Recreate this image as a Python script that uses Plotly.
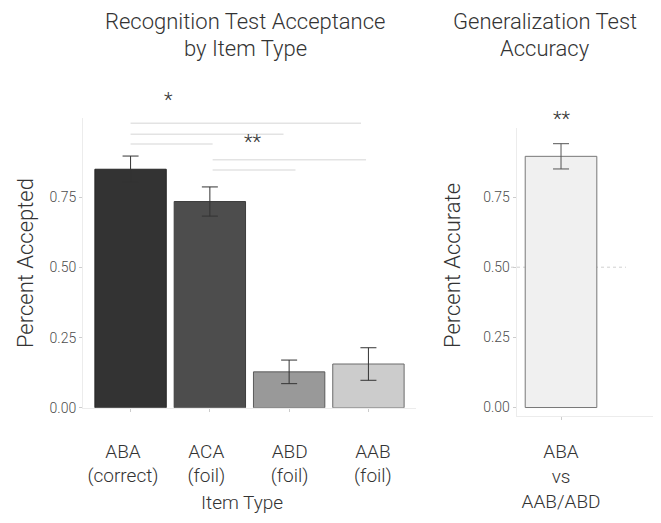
import plotly.graph_objects as go

# ---------------- data ----------------
categories = ["ABA", "ACA", "ABD", "AAB"]
tick_labels = ["ABA<br>(correct)", "ACA<br>(foil)", "ABD<br>(foil)", "AAB<br>(foil)"]
accept_means = [0.850, 0.735, 0.128, 0.156]
accept_err = [0.047, 0.052, 0.042, 0.058]
bar_colors = ["#333333", "#4d4d4d", "#999999", "#cccccc"]
bar_edges = ["#262626", "#3d3d3d", "#5a5a5a", "#6a6a6a"]

gen_label = ["ABA<br>vs<br>AAB/ABD"]
gen_mean = [0.895]
gen_err = [0.045]

# significance brackets (x in category units, y in proportion)
sig_x0 = [0.0, 0.0, 0.0, 1.035, 1.035]
sig_x1 = [2.906, 1.929, 1.035, 2.97, 2.08]
sig_y = [1.014, 0.975, 0.940, 0.884, 0.847]
sig_text = ["*", "**"]
sig_text_x = [0.48, 1.54]
sig_text_y = [1.084, 0.933]
gen_sig_y = 1.018
chance = 0.5

# page offset of the figure inside the browser window
OFFX, OFFY = 8, 0
W, H = 661 - OFFX, 523 - OFFY
FONT = "Roboto"
TXT = "#333333"


def PX(x):
    return (x - OFFX) / W


def PY(y):
    return 1 - (y - OFFY) / H


# axis layouts (pixel boxes)
L_XDOM = [PX(83), PX(416)]
L_YDOM = [PY(406), PY(112)]
L_XR = [-0.6, 3.6]
L_LABEL_XR = [-0.48, 3.517]   # tick-label row is spread slightly wider than the bars
L_YR = [0, 1.0316]
R_XDOM = [PX(516.7), PX(660)]
R_YDOM = [PY(414), PY(121.7)]
R_XR = [-0.557, 1.244]
R_YR = [-0.029, 0.9965]


def to_paper(v, dom, rng):
    return dom[0] + (v - rng[0]) / (rng[1] - rng[0]) * (dom[1] - dom[0])


fig = go.Figure()
x_idx = list(range(len(categories)))
fig.add_trace(go.Bar(
    x=x_idx, y=accept_means, width=0.9,
    marker=dict(color=bar_colors, line=dict(color=bar_edges, width=1)),
    error_y=dict(type="data", array=accept_err, visible=True, color="#333333",
                 thickness=1, width=8),
    xaxis="x", yaxis="y", showlegend=False, hoverinfo="skip"))
fig.add_trace(go.Bar(
    x=[0], y=gen_mean, width=0.9,
    marker=dict(color="#f0f0f0", line=dict(color="#777777", width=1)),
    error_y=dict(type="data", array=gen_err, visible=True, color="#555555",
                 thickness=1, width=8),
    xaxis="x2", yaxis="y2", showlegend=False, hoverinfo="skip"))
# invisible carrier for the category label axis
fig.add_trace(go.Scatter(x=x_idx, y=[None] * len(x_idx), xaxis="x3", yaxis="y",
                         showlegend=False, hoverinfo="skip"))

line_common = dict(showgrid=False, zeroline=False, showline=True, linecolor="#ececec",
                   linewidth=1, ticks="outside", ticklen=3, tickcolor="#cccccc")
yfont = dict(family=FONT, size=14, color="#4d4d4d", weight=300)
xfont = dict(family=FONT, size=19, color=TXT, weight=300)
yticks = [0, 0.25, 0.5, 0.75]
ytext = ["0.00", "0.25", "0.50", "0.75"]

fig.update_layout(
    width=W, height=H, margin=dict(l=0, r=0, t=0, b=0),
    paper_bgcolor="white", plot_bgcolor="white",
    font=dict(family=FONT, color=TXT, weight=300),
    xaxis=dict(domain=L_XDOM, range=L_XR, tickvals=x_idx, showticklabels=False,
               anchor="y", **line_common),
    xaxis3=dict(domain=L_XDOM, range=L_LABEL_XR, tickvals=x_idx, ticktext=tick_labels,
                anchor="y", overlaying="x", side="bottom", showgrid=False, zeroline=False,
                showline=False, ticks="", ticklabelstandoff=30, tickfont=xfont),
    yaxis=dict(domain=L_YDOM, range=L_YR, tickvals=yticks, ticktext=ytext,
               anchor="x", tickfont=yfont, **line_common),
    xaxis2=dict(domain=R_XDOM, range=R_XR, tickvals=[0], ticktext=gen_label,
                anchor="y2", ticklabelstandoff=16, tickfont=xfont, **line_common),
    yaxis2=dict(domain=R_YDOM, range=R_YR, tickvals=yticks, ticktext=ytext,
                anchor="x2", tickfont=yfont, **line_common),
)

for x0, x1, y in zip(sig_x0, sig_x1, sig_y):
    fig.add_shape(type="line", xref="x", yref="y", x0=x0, x1=x1, y0=y, y1=y,
                  line=dict(color="#e3e3e3", width=1.5), layer="below")

fig.add_shape(type="line", xref="paper", yref="y2", x0=PX(511), x1=PX(626), y0=chance, y1=chance,
              line=dict(color="#d0d0d0", width=1, dash="dot"), layer="below")

for t, x, y in zip(sig_text, sig_text_x, sig_text_y):
    fig.add_annotation(x=to_paper(x, L_XDOM, L_XR), y=to_paper(y, L_YDOM, L_YR),
                       xref="paper", yref="paper", text=t, showarrow=False,
                       xanchor="center", yanchor="middle", yshift=4,
                       font=dict(family=FONT, size=20, color=TXT))
fig.add_annotation(x=to_paper(0, R_XDOM, R_XR), y=to_paper(gen_sig_y, R_YDOM, R_YR),
                   xref="paper", yref="paper", text="**", showarrow=False,
                   xanchor="center", yanchor="middle", yshift=3,
                   font=dict(family=FONT, size=20, color=TXT))


def px_ann(text, x, y, size, angle=0):
    fig.add_annotation(x=PX(x), y=PY(y), xref="paper", yref="paper", text=text,
                       showarrow=False, textangle=angle, xanchor="center", yanchor="middle",
                       font=dict(family=FONT, size=size, color=TXT, weight=300))


px_ann("Recognition Test Acceptance", 245, 14, 22)
px_ann("by Item Type", 245, 41, 22)
px_ann("Generalization Test", 545, 14, 22)
px_ann("Accuracy", 545, 41, 22)
px_ann("Percent Accepted", 25, 259, 22, -90)
px_ann("Percent Accurate", 453, 262, 22, -90)
px_ann("Item Type", 242, 502, 19)

fig.write_html("out.html")
